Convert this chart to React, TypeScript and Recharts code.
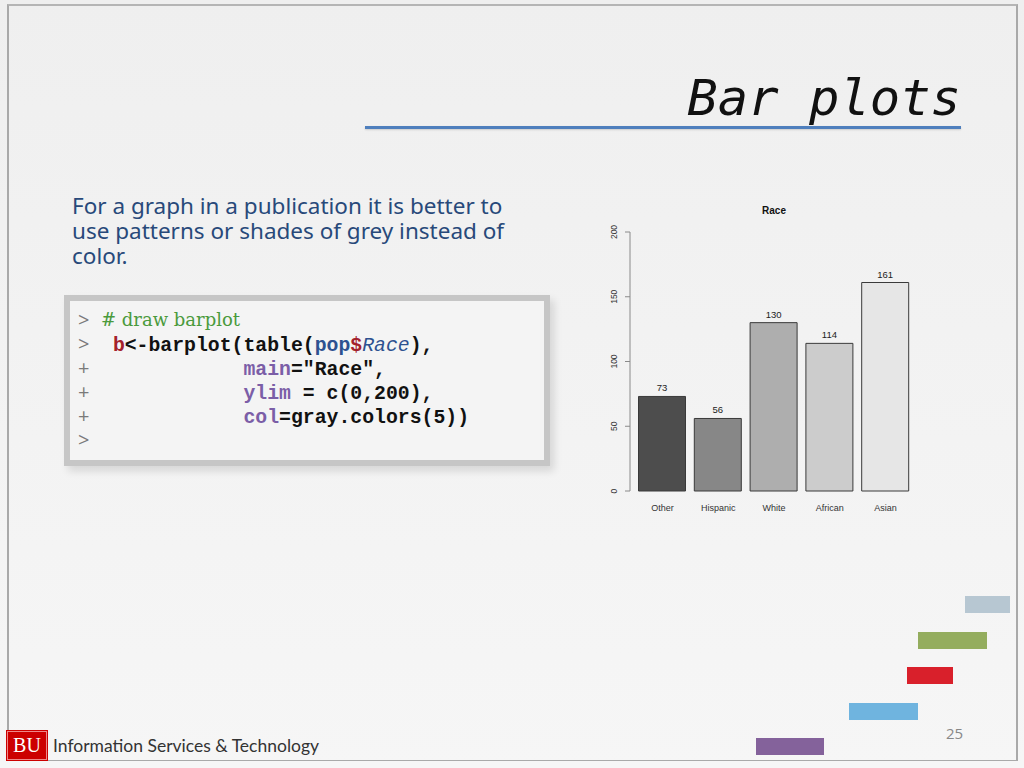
import React from "react";
import { Bar, BarChart, Cell, LabelList, XAxis, YAxis } from "recharts";

const categories = ["Other", "Hispanic", "White", "African", "Asian"];
const counts = [73, 56, 130, 114, 161];
const grayFills = ["#4D4D4D", "#878787", "#AEAEAE", "#CCCCCC", "#E6E6E6"];
const yTicks = [0, 50, 100, 150, 200];

const data = categories.map((name, i) => ({ name, count: counts[i] }));

const chartFont = "'Liberation Sans', Arial, sans-serif";

function YTick(props: any) {
  const { x, y, payload } = props;
  const bx = x - 8;
  return (
    <text
      x={bx}
      y={y}
      transform={`rotate(-90 ${bx} ${y})`}
      textAnchor="middle"
      fontSize={8.5}
      fill="#333"
      fontFamily={chartFont}
    >
      {payload.value}
    </text>
  );
}

function XTick(props: any) {
  const { x, y, payload } = props;
  return (
    <text x={x} y={y + 20} textAnchor="middle" fontSize={9} fill="#333" fontFamily={chartFont}>
      {payload.value}
    </text>
  );
}

function RaceChart() {
  return (
    <div style={{ position: "absolute", left: 600, top: 195, width: 330, height: 330 }}>
      <div
        style={{
          position: "absolute",
          left: 0,
          width: 348,
          top: 10,
          textAlign: "center",
          fontFamily: chartFont,
          fontWeight: "bold",
          fontSize: 10,
          color: "#111",
        }}
      >
        Race
      </div>
      <BarChart
        width={330}
        height={330}
        data={data}
        margin={{ top: 37, right: 12, bottom: 4, left: 5 }}
        barSize={47}
      >
        <XAxis
          dataKey="name"
          axisLine={false}
          tickLine={false}
          tickSize={0}
          tickMargin={0}
          height={30}
          padding={{ left: 4.5, right: 4.5 }}
          tick={<XTick />}
          interval={0}
        />
        <YAxis
          domain={[0, 200]}
          ticks={yTicks}
          width={25}
          stroke="#8a8a8a"
          tickSize={5}
          tickMargin={0}
          tick={<YTick />}
          interval={0}
        />
        <Bar dataKey="count" stroke="#3a3a3a" strokeWidth={1} isAnimationActive={false}>
          {data.map((d, i) => (
            <Cell key={d.name} fill={grayFills[i]} />
          ))}
          <LabelList
            dataKey="count"
            position="top"
            offset={5}
            fill="#222"
            fontSize={9.5}
            fontFamily={chartFont}
          />
        </Bar>
      </BarChart>
    </div>
  );
}

const mono = "'Liberation Mono', 'DejaVu Sans Mono', monospace";
const prompt: React.CSSProperties = {
  position: "absolute",
  left: 78,
  fontFamily: "'Open Sans', sans-serif",
  fontSize: 20,
  color: "#7a7a7a",
};
const purple = "#7b5ea7";
const darkRed = "#a3212b";
const blue = "#2d5190";
const indent = "            ";

function CodeBox() {
  const lineTop = (i: number) => 310 + i * 24;
  const codeLine = (i: number): React.CSSProperties => ({
    position: "absolute",
    left: 101,
    top: lineTop(i),
    whiteSpace: "pre",
    fontFamily: mono,
    fontWeight: "bold",
    fontSize: 19.8,
    lineHeight: "24px",
    color: "#111",
  });
  const prompts = [">", ">", "+", "+", "+", ">"];
  return (
    <>
      <div
        style={{
          position: "absolute",
          left: 64,
          top: 295,
          width: 474,
          height: 159,
          background: "#f4f4f4",
          border: "6px solid #c6c6c6",
          boxShadow: "4px 5px 8px rgba(0,0,0,0.12)",
        }}
      />
      {prompts.map((p, i) => (
        <div key={i} style={{ ...prompt, top: lineTop(i) - 1, lineHeight: "22px" }}>
          {p}
        </div>
      ))}
      <div
        style={{
          ...codeLine(0),
          top: lineTop(0) - 1,
          fontFamily: "'DejaVu Serif', serif",
          fontWeight: "normal",
          fontSize: 18,
          lineHeight: "22px",
          color: "#4a9a3c",
        }}
      >
        # draw barplot
      </div>
      <div style={codeLine(1)}>
        {" "}
        <span style={{ color: darkRed }}>b</span>&lt;-barplot(table(
        <span style={{ color: blue }}>pop</span>
        <span style={{ color: darkRed }}>$</span>
        <span style={{ color: blue, fontStyle: "italic", fontWeight: "normal" }}>Race</span>),
      </div>
      <div style={codeLine(2)}>
        {indent}
        <span style={{ color: purple }}>main</span>="Race",
      </div>
      <div style={codeLine(3)}>
        {indent}
        <span style={{ color: purple }}>ylim</span> = c(0,200),
      </div>
      <div style={codeLine(4)}>
        {indent}
        <span style={{ color: purple }}>col</span>=gray.colors(5))
      </div>
    </>
  );
}

const decoRects = [
  { x: 965, y: 596, w: 45, h: 17, c: "#b7c7d2" },
  { x: 918, y: 632, w: 69, h: 17, c: "#94ad5e" },
  { x: 907, y: 667, w: 46, h: 17, c: "#d9202b" },
  { x: 849, y: 703, w: 69, h: 17, c: "#6fb4df" },
  { x: 756, y: 738, w: 68, h: 17, c: "#84629b" },
];

export default function App() {
  return (
    <div
      style={{
        position: "absolute",
        left: 0,
        top: 0,
        width: 1024,
        height: 768,
        overflow: "hidden",
        background: "linear-gradient(#efefef, #f6f6f6)",
      }}
    >
      <div
        style={{
          position: "absolute",
          left: 7,
          top: 4,
          width: 1007,
          height: 754,
          borderLeft: "2px solid #a9a9a9",
          borderTop: "2px solid #b5b5b5",
          borderRight: "2px solid #a9a9a9",
          borderBottom: "1px solid #a9a9a9",
        }}
      />
      <div
        style={{
          position: "absolute",
          right: 63,
          top: 68,
          fontFamily: "'DejaVu Sans Mono', monospace",
          fontStyle: "italic",
          fontSize: 50.5,
          lineHeight: "60px",
          color: "#111",
        }}
      >
        Bar plots
      </div>
      <div
        style={{
          position: "absolute",
          left: 365,
          top: 126,
          width: 596,
          height: 3,
          background: "#4f7fbd",
          boxShadow: "0 1px 2px rgba(0,0,0,0.15)",
        }}
      />
      <div
        style={{
          position: "absolute",
          left: 72,
          top: 193,
          whiteSpace: "nowrap",
          fontFamily: "'Noto Sans', 'Open Sans', sans-serif",
          fontSize: 22.5,
          lineHeight: "25px",
          color: "#28497a",
        }}
      >
        For a graph in a publication it is better to
        <br />
        use patterns or shades of grey instead of
        <br />
        color.
      </div>
      <CodeBox />
      <RaceChart />
      {decoRects.map((r, i) => (
        <div
          key={i}
          style={{ position: "absolute", left: r.x, top: r.y, width: r.w, height: r.h, background: r.c }}
        />
      ))}
      <div
        style={{
          position: "absolute",
          left: 946,
          top: 723,
          fontFamily: "'Open Sans', sans-serif",
          fontSize: 15,
          color: "#888",
        }}
      >
        25
      </div>
      <div
        style={{
          position: "absolute",
          left: 7,
          top: 731,
          width: 40,
          height: 29,
          background: "#cc0000",
          boxSizing: "border-box",
          border: "1px solid #e88",
          outline: "1px solid #cc0000",
          color: "#fff",
          fontFamily: "'Liberation Serif', serif",
          fontSize: 20,
          lineHeight: "27px",
          textAlign: "center",
        }}
      >
        BU
      </div>
      <div
        style={{
          position: "absolute",
          left: 53,
          top: 735,
          fontFamily: "Lato, sans-serif",
          fontSize: 17.5,
          lineHeight: "22px",
          color: "#333",
        }}
      >
        Information Services &amp; Technology
      </div>
    </div>
  );
}
